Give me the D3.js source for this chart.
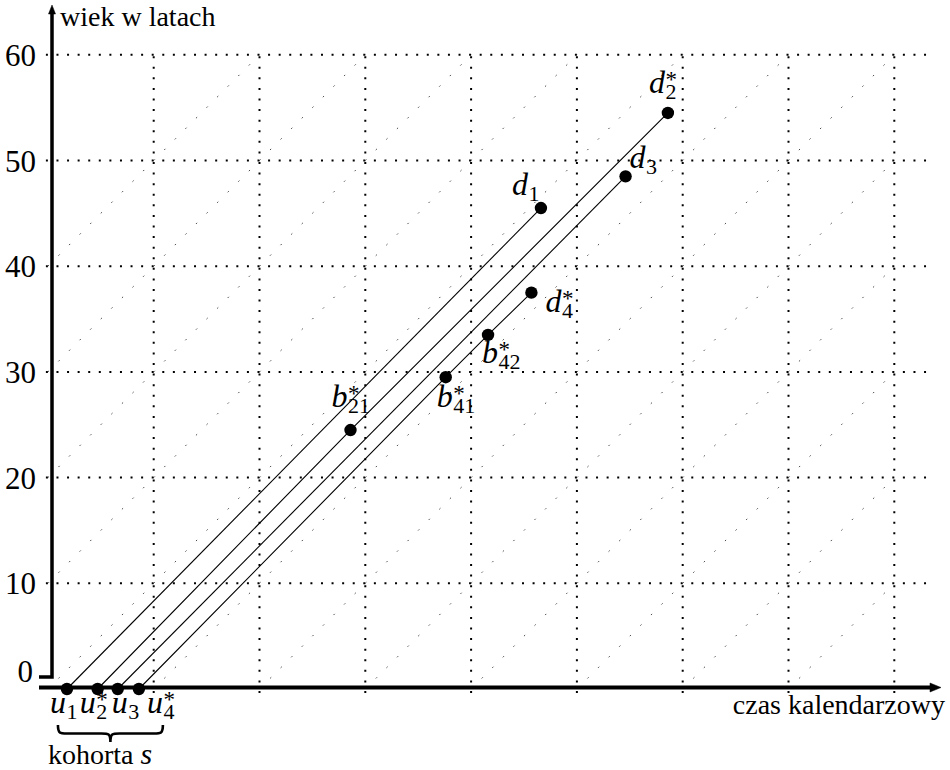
<!DOCTYPE html>
<html>
<head>
<meta charset="utf-8">
<script src="https://cdn.jsdelivr.net/npm/d3@7"></script>
<style>
  body { margin: 0; background: #fff; }
  svg text { font-family: "Liberation Serif", "DejaVu Serif", serif; }
</style>
</head>
<body>
<div id="svg-area"></div>
<script>
const width = 950;
const height = 770;
const serif = '"Liberation Serif", "DejaVu Serif", serif';

// grid of the Lexis diagram
const gridYears = [10, 20, 30, 40, 50, 60, 70, 80];
const gridAges = [10, 20, 30, 40, 50, 60];
const ageTickLabels = ['10', '20', '30', '40', '50', '60'];
const lexisStarts = [-40, -30, -20, -10, 0, 10, 20, 30, 40, 50, 60, 70];

// four lives of cohort s: birth u_i, death d_i
const lifeNames = ['1', '2', '3', '4'];
const lifeStar = [false, true, false, true];
const birthTimes = [1.8, 4.7, 6.6, 8.6];
const deathTimes = [46.6, 58.6, 54.6, 45.7];
const deathAges = [45.5, 54.5, 48.5, 37.5];

// births of children b*_ij on the life lines
const childNames = ['21', '41', '42'];
const childLife = [1, 3, 3];
const childTimes = [28.6, 37.6, 41.6];
const childAges = [24.5, 29.5, 33.5];

// label placement (px, relative to the dot)
const birthLabelOff = [[-17, 24], [-18, 24], [-6, 24], [8, 24]];
const deathLabelOff = [[-29, -13], [-19, -20], [4, -8], [14, 19]];
const childLabelOff = [[-19, -23], [-9, 30], [-6, 28]];

const x = d3.scaleLinear().domain([0, 80]).range([47.9, 894.3]);
const y = d3.scaleLinear().domain([0, 60]).range([689, 54.8]);

const svg = d3.select('#svg-area').append('svg')
  .attr('width', width).attr('height', height)
  .attr('font-family', serif);

// faint age-time diagonals
const diag = svg.append('g')
  .attr('stroke', '#333').attr('stroke-width', 0.9).attr('stroke-dasharray', '1.6 13.35');
lexisStarts.forEach(c => {
  const a0 = Math.max(0, -c), a1 = Math.min(60, 80 - c);
  diag.append('line')
    .attr('x1', x(a0 + c)).attr('y1', y(a0))
    .attr('x2', x(a1 + c)).attr('y2', y(a1));
});

// dotted grid
const grid = svg.append('g')
  .attr('stroke', '#000').attr('stroke-width', 2).attr('stroke-dasharray', '2 8.58');
grid.selectAll('.v').data(gridYears).enter().append('line')
  .attr('x1', d => x(d)).attr('x2', d => x(d))
  .attr('y1', y(0) + 4).attr('y2', y(60));
grid.selectAll('.h').data(gridAges).enter().append('line')
  .attr('x1', x(0) - 2).attr('x2', 929)
  .attr('y1', d => y(d)).attr('y2', d => y(d));

// axes
const ax = svg.append('g').attr('fill', 'none').attr('stroke', '#000');
ax.append('path')
  .attr('d', `M39,${y(0) - 12} H52 V12`)
  .attr('stroke-width', 3.5);
ax.append('path').attr('d', 'M52,5 L48.5,14 L55.5,14 Z').attr('fill', '#000').attr('stroke-width', 0.5);
ax.append('line')
  .attr('x1', 39).attr('x2', 932).attr('y1', y(0) - 1.5).attr('y2', y(0) - 1.5)
  .attr('stroke-width', 4);
ax.append('path')
  .attr('d', `M941,${y(0) - 1.5} L930,${y(0) - 6} L930,${y(0) + 3} Z`)
  .attr('fill', '#000').attr('stroke-width', 0.5);

// tick labels
const ticks = svg.append('g').attr('font-size', 31).attr('text-anchor', 'end');
ticks.selectAll('text').data(gridAges).enter().append('text')
  .attr('x', 36).attr('y', d => y(d) + 11)
  .text((d, i) => ageTickLabels[i]);
ticks.append('text').attr('x', 33).attr('y', y(0) - 7).text('0');

svg.append('text').attr('x', 60).attr('y', 26).attr('font-size', 28).text('wiek w latach');
svg.append('text').attr('x', 945).attr('y', 714).attr('font-size', 28)
  .attr('text-anchor', 'end').text('czas kalendarzowy');

// life lines
const line = d3.line().x(d => x(d[0])).y(d => y(d[1]));
const lives = lifeNames.map((n, i) => {
  const pts = [[birthTimes[i], 0]];
  childTimes.forEach((t, j) => { if (childLife[j] === i) pts.push([t, childAges[j]]); });
  pts.push([deathTimes[i], deathAges[i]]);
  return pts;
});
svg.append('g').selectAll('path').data(lives).enter().append('path')
  .attr('d', line)
  .attr('fill', 'none').attr('stroke', '#000').attr('stroke-width', 1.1);

// events
const events = [];
lifeNames.forEach((n, i) => {
  events.push({t: birthTimes[i], a: 0, letter: 'u', sub: n, star: lifeStar[i], off: birthLabelOff[i]});
  events.push({t: deathTimes[i], a: deathAges[i], letter: 'd', sub: n, star: lifeStar[i], off: deathLabelOff[i]});
});
childNames.forEach((n, j) => {
  events.push({t: childTimes[j], a: childAges[j], letter: 'b', sub: n, star: true, off: childLabelOff[j]});
});

svg.append('g').selectAll('circle').data(events).enter().append('circle')
  .attr('cx', d => x(d.t)).attr('cy', d => y(d.a)).attr('r', 6.2).attr('fill', '#000');

// math labels: italic letter, upright subscript, star stacked above it
const labels = svg.append('g');
events.forEach(d => {
  const t = labels.append('text')
    .attr('x', x(d.t) + d.off[0]).attr('y', y(d.a) + d.off[1])
    .attr('font-size', 32);
  t.append('tspan').attr('font-style', 'italic').text(d.letter);
  const sub = t.append('tspan').attr('font-size', 22).attr('dx', 0.5).attr('dy', 6).text(d.sub);
  if (d.star) {
    const sw = sub.node().getComputedTextLength();
    t.append('tspan').attr('font-size', 23).attr('dx', -sw).attr('dy', -12).text('*');
  }
});

// brace under the cohort
const bx1 = x(birthTimes[0]) - 9;
const bx2 = x(birthTimes[birthTimes.length - 1]) + 24;
const by = y(0) + 36, bh = 17;
const bm = (bx1 + bx2) / 2, bym = by + bh / 2, r = 9;
svg.append('path')
  .attr('d', `M${bx1},${by} C${bx1},${bym} ${bx1 + 2},${bym} ${bx1 + r},${bym} L${bm - r},${bym}` +
    ` C${bm - 2},${bym} ${bm},${bym} ${bm},${by + bh} C${bm},${bym} ${bm + 2},${bym} ${bm + r},${bym}` +
    ` L${bx2 - r},${bym} C${bx2 - 2},${bym} ${bx2},${bym} ${bx2},${by}`)
  .attr('fill', 'none').attr('stroke', '#000').attr('stroke-width', 2.6);

const coh = svg.append('text').attr('x', 48).attr('y', 764).attr('font-size', 28);
coh.append('tspan').text('kohorta ');
coh.append('tspan').attr('font-style', 'italic').attr('font-size', 30).text('s');
</script>
</body>
</html>
